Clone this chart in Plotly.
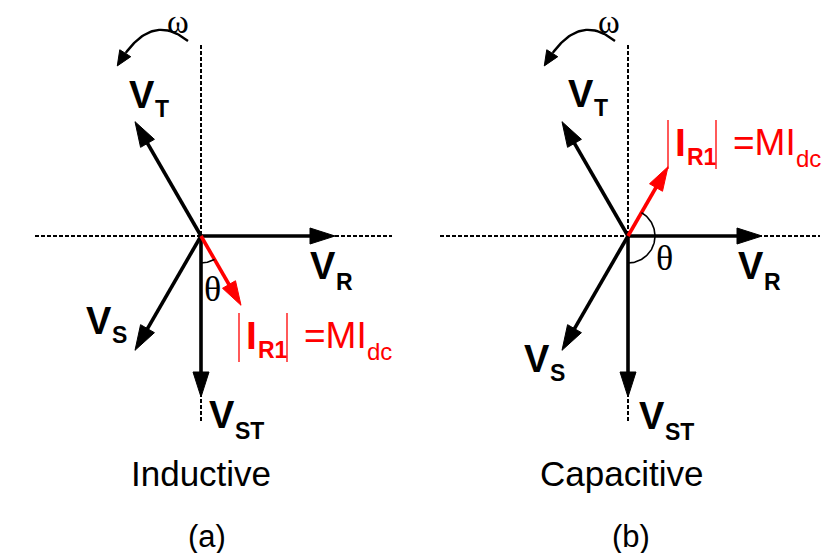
import numpy as np
import plotly.graph_objects as go

# ---------------- data ----------------
panel_tags = ["(a)", "(b)"]
panel_titles = ["Inductive", "Capacitive"]
phasor_subs = ["R", "T", "S", "ST"]
phasor_angles_deg = [0, 120, 240, 270]
phasor_magnitudes = [134, 132, 132, 161]
current_angles_deg = [-60, 60]
current_magnitudes = [80, 80]
theta_arcs_deg = [(-90, -60), (-90, 60)]

# ---------------- layout constants ----------------
W, H = 824, 553
origins = [(201, 236), (628, 236)]
hlines = [(35, 392), (440, 820)]
vline = (45, 423)
# label positions (left x of "V", cap-centre y) per panel, per phasor
v_label_pos = [
    [(308, 266), (127, 95), (84, 321), (207, 415)],
    [(736, 266), (566, 94), (522, 359), (637, 416)],
]
theta_pos = [(212, 289), (664, 258)]
omega_pos = [(178, 22), (609, 22)]
ir_label_pos = [(239, 337), (668, 144)]
title_x = [201, 621]
tag_x = [207, 631]

RED = "#ff0000"
BLK = "#000000"

fig = go.Figure()
ann = []


def line(xs, ys, color, width, dash=None):
    fig.add_trace(go.Scatter(x=xs, y=ys, mode="lines",
                             line=dict(color=color, width=width, dash=dash),
                             hoverinfo="skip", showlegend=False))


def tri(xs, ys, color):
    fig.add_trace(go.Scatter(x=xs, y=ys, mode="lines", fill="toself",
                             fillcolor=color, line=dict(color=color, width=1),
                             hoverinfo="skip", showlegend=False))


def arrow(x0, y0, x1, y1, color, width=3.6, hl=25, hw=8):
    dx, dy = x1 - x0, y1 - y0
    L = np.hypot(dx, dy)
    ux, uy = dx / L, dy / L
    bx, by = x1 - ux * hl, y1 - uy * hl
    line([x0, bx + ux * 2], [y0, by + uy * 2], color, width)
    px, py = -uy, ux
    tri([x1, bx + px * hw, bx - px * hw, x1], [y1, by + py * hw, by - py * hw, y1], color)


def txt(x, y, s, size, color=BLK, bold=False, family="Liberation Sans", xanchor="left"):
    if bold:
        s = "<b>" + s + "</b>"
    ann.append(dict(x=x, y=y, xref="x", yref="y", text=s, showarrow=False,
                    xanchor=xanchor, yanchor="middle",
                    font=dict(family=family, size=size, color=color)))


for p in range(2):
    ox, oy = origins[p]
    # dotted axes
    line([hlines[p][0], hlines[p][1]], [oy, oy], BLK, 2, "4px,2px")
    line([ox, ox], [vline[0], vline[1]], BLK, 2, "4px,2px")

    # voltage phasors
    for k in range(4):
        a = np.radians(phasor_angles_deg[k])
        m = phasor_magnitudes[k]
        arrow(ox, oy, ox + m * np.cos(a), oy - m * np.sin(a), BLK)
        lx, ly = v_label_pos[p][k]
        txt(lx, ly, "V", 38, bold=True)
        sub_dy = 16 if k in (0, 3) else 14
        txt(lx + 26, ly + sub_dy, phasor_subs[k], 23, bold=True)

    # current phasor
    a = np.radians(current_angles_deg[p])
    m = current_magnitudes[p]
    arrow(ox, oy, ox + m * np.cos(a), oy - m * np.sin(a), RED, width=3.6, hl=24, hw=7.5)

    # theta arc
    a0, a1 = theta_arcs_deg[p]
    r = 27
    t = np.radians(np.linspace(a0, a1, 60))
    line(ox + r * np.cos(t), oy - r * np.sin(t), BLK, 1.6)
    tx, ty = theta_pos[p]
    txt(tx, ty, "θ", 36, family="Liberation Serif", xanchor="center")

    # omega rotation arrow
    P0 = np.array([ox - 13, oy - 195.0])
    P2 = np.array([ox - 80, oy - 176.0])
    B = np.array([ox - 48, oy - 205.0])
    P1 = 2 * B - 0.5 * (P0 + P2)
    s = np.linspace(0, 1, 40)
    curve = ((1 - s) ** 2)[:, None] * P0 + (2 * (1 - s) * s)[:, None] * P1 + (s ** 2)[:, None] * P2
    tang = P2 - P1
    tang = tang / np.hypot(*tang)
    tip = P2 + tang * 7
    hl, hw = 15, 6.5
    base = tip - tang * hl
    line(curve[:-3, 0], curve[:-3, 1], BLK, 2.4)
    pn = np.array([-tang[1], tang[0]])
    tri([tip[0], base[0] + pn[0] * hw, base[0] - pn[0] * hw, tip[0]],
        [tip[1], base[1] + pn[1] * hw, base[1] - pn[1] * hw, tip[1]], BLK)
    wx, wy = omega_pos[p]
    txt(wx, wy, "ω", 33, family="Liberation Serif", xanchor="center")

    # |I_R1| = M I_dc label
    bx, by = ir_label_pos[p]
    line([bx, bx], [by - 24, by + 25], RED, 1.3)
    line([bx + 48, bx + 48], [by - 24, by + 25], RED, 1.3)
    txt(bx + 5, by - 2, "I", 39, RED, bold=True)
    txt(bx + 17, by + 13, "R1", 23, RED, bold=True)
    txt(bx + 63, by - 2, "=MI", 37, RED)
    txt(bx + 126, by + 14, "dc", 24, RED)

    # titles
    txt(title_x[p], 473, panel_titles[p], 35, xanchor="center")
    txt(tag_x[p], 536, panel_tags[p], 31, xanchor="center")

fig.update_layout(
    width=W, height=H, margin=dict(l=0, r=0, t=0, b=0),
    paper_bgcolor="white", plot_bgcolor="white",
    xaxis=dict(range=[0, W], visible=False, fixedrange=True),
    yaxis=dict(range=[H, 0], visible=False, fixedrange=True),
    annotations=ann, showlegend=False,
)
fig.write_html("out.html")
